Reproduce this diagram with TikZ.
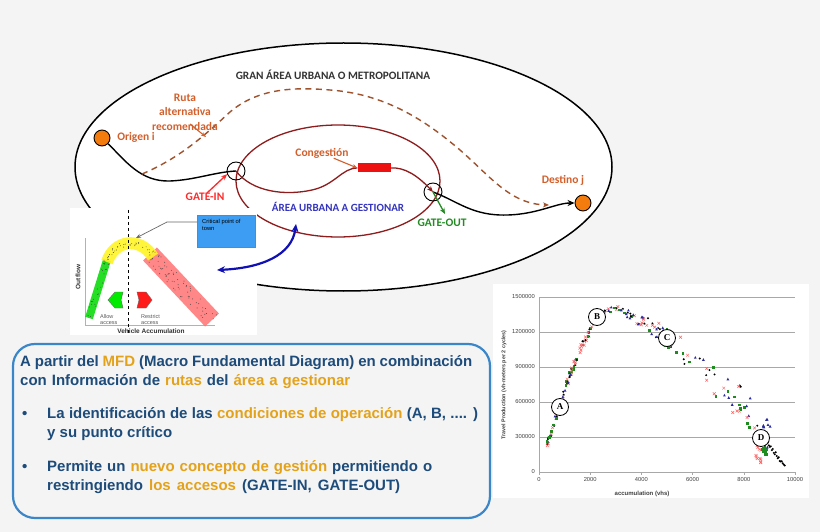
\documentclass[tikz,border=0pt]{standalone}
\usepackage{fontspec}
\setmainfont{Carlito}
\newfontfamily\arialf{Liberation Sans}
\newfontfamily\serff{Liberation Serif}
\usetikzlibrary{arrows.meta,shapes.geometric}

\definecolor{bgc}{HTML}{F4F4F4}
\definecolor{odC}{HTML}{F47C0E}
\definecolor{labelC}{HTML}{D35F2B}
\definecolor{dashC}{HTML}{A0522D}
\definecolor{maroonC}{HTML}{8E1C1C}
\definecolor{congRed}{HTML}{EE1111}
\definecolor{gateRed}{HTML}{FF2A2A}
\definecolor{gateGreen}{HTML}{228B22}
\definecolor{areaBlue}{HTML}{3535C0}
\definecolor{arrowBlue}{HTML}{1010B5}
\definecolor{boxBlue}{HTML}{3A86C8}
\definecolor{txtBlue}{HTML}{1D4B7A}
\definecolor{goldC}{HTML}{E3A21A}
\definecolor{mkblue}{HTML}{2B2BA0}
\definecolor{mkgreen}{HTML}{1E8C1E}
\definecolor{mkred}{HTML}{FF6060}
\definecolor{critC}{HTML}{3D9DF2}
\definecolor{gridC}{HTML}{A8A8A8}

\tikzset{
  lbl/.style={font=\bfseries\fontsize{11.5}{14.5}\selectfont, text=labelC, inner sep=1pt},
  odc/.style={circle, draw=black, line width=0.9pt, fill=odC, minimum size=16pt, inner sep=0},
  gatec/.style={circle, draw=black, line width=0.9pt, minimum size=18pt, inner sep=0},
  blkpath/.style={draw=black, line width=1.4pt},
  maroonpath/.style={draw=maroonC, line width=1.3pt},
  dashpath/.style={draw=dashC, line width=1.4pt, dash pattern=on 6pt off 4.5pt},
  boxline/.style={font=\arialf\bfseries\fontsize{15}{18}\selectfont, text=txtBlue, anchor=base west, inner sep=0},
  ticklbl/.style={font=\arialf\fontsize{5.8}{7}\selectfont, text=black!75, inner sep=1pt},
  lettc/.style={circle, draw=black, line width=0.8pt, fill=white, minimum size=17pt, inner sep=0, font=\serff\bfseries\fontsize{9}{10}\selectfont},
  insettxt/.style={font=\arialf\fontsize{5.5}{6}\selectfont, text=black!65, align=left, inner sep=0},
}

\newcommand\gw[1]{\textcolor{goldC}{#1}}
\newcommand\fitline[2]{\makebox[#1][s]{#2}}

\newcommand\mkpt[3]{%
  \ifcase#1\relax
    \fill[mkblue] (#2,#3) ++(0,-1.6) -- ++(1.4,2.6) -- ++(-2.8,0) -- cycle;
  \or
    \fill[mkgreen] (#2-1.4,#3-1.4) rectangle (#2+1.4,#3+1.4);
  \or
    \draw[mkred,line width=0.45pt] (#2-1.4,#3-1.4) -- (#2+1.4,#3+1.4) (#2-1.4,#3+1.4) -- (#2+1.4,#3-1.4);
  \else
    \fill[black] (#2,#3) circle[radius=1.1pt];
  \fi}

\begin{document}
\begin{tikzpicture}[x=1pt,y=-1pt]
\fill[bgc] (0,0) rectangle (820,532);
\useasboundingbox (0,0) rectangle (820,532);

% ---------- metropolitan area ----------
\node[ellipse, draw=black, line width=1.5pt, fill=white, minimum width=537pt, minimum height=248pt, inner sep=0] (metro) at (343.5,167) {};
\node[font=\bfseries\fontsize{11.3}{13}\selectfont, text=black!80] (ttl) at (333,75) {GRAN ÁREA URBANA O METROPOLITANA};

% managed area
\node[ellipse, draw=maroonC, line width=1.3pt, minimum width=204pt, minimum height=112pt, inner sep=0] (zone) at (338,181) {};

\node[odc] (orig) at (102,138) {};
\node[odc] (dest) at (583,203) {};
\node[gatec] (gin) at (236,171) {};
\node[gatec] (gout) at (433,192) {};
\node[fill=congRed, minimum width=33pt, minimum height=9pt, inner sep=0] (cong) at (374,168) {};

\coordinate (dstart) at (142,174);
\coordinate (dend) at (549,205);

% routes
\draw[blkpath] (orig) .. controls (125,160) and (140,182) .. (170,181) .. controls (195,180) and (215,172) .. (gin.center);
\draw[maroonpath] (gin.center) .. controls (252,192) and (285,196) .. (312,190) .. controls (335,185) and (342,168) .. (cong.west);
\draw[maroonpath, -{Stealth[length=6pt,width=5pt]}] (cong.east) .. controls (405,167) and (418,176) .. (gout.center);
\draw[blkpath, -{Stealth[length=7pt,width=6pt]}] (gout.center) .. controls (455,200) and (470,214) .. (500,215) .. controls (535,216) and (555,203) .. (dest);
\draw[dashpath, -{Stealth[length=6pt,width=5pt]}] (dstart) .. controls (180,158) and (205,135) .. (230,112) .. controls (258,88) and (295,87) .. (330,90) .. controls (385,94) and (425,120) .. (460,150) .. controls (490,176) and (510,204) .. (dend);

% labels
\node[lbl] (orl) at (136,137) {Origen i};
\node[lbl, align=center] (ruta) at (185,112) {Ruta\\alternativa\\recomendada};
\coordinate (rutaend) at (206,137);
\draw[draw=labelC, line width=1.1pt, -{Stealth[length=5pt,width=4pt]}] ([xshift=5pt,yshift=-12pt]ruta.center) -- (rutaend);
\node[lbl] (congl) at (322,153) {Congestión};
\draw[draw=labelC, line width=1.1pt, -{Stealth[length=5pt,width=4pt]}] ([xshift=-16pt,yshift=1pt]congl.south east) -- (cong.west);
\node[lbl] (destl) at (563,180) {Destino j};
\node[lbl, text=gateRed] (gil) at (205,197) {GATE-IN};
\draw[draw=gateRed, line width=1.3pt, -{Stealth[length=6pt,width=5pt]}] ([xshift=2pt,yshift=-1pt]gil.north) -- (gin.200);
\node[lbl, text=gateGreen] (gol) at (442,223) {GATE-OUT};
\coordinate (gotip) at (445,214);
\draw[draw=gateGreen, line width=1.3pt, -{Stealth[length=6pt,width=5pt]}] (gout.center) -- (gotip);
\node[font=\bfseries\fontsize{11}{13}\selectfont, text=areaBlue] (areal) at (338,207) {ÁREA URBANA A GESTIONAR};

% ---------- MFD inset ----------
\node[fill=white, minimum width=187pt, minimum height=127pt, inner sep=0, anchor=north west] (inset) at (70,208) {};
\draw[gray!60, line width=0.6pt] (85,238) -- (85,325) -- (215,325);
\draw[fill=none, draw=red!55, line width=19pt, opacity=0.85] (150,254) -- (212,320);
\draw[draw=green!75!black!60!green, line width=8pt, opacity=0.85] (89,318) -- (107,260);
\draw[draw=yellow!85!white, line width=12pt, opacity=0.9] (107,262) .. controls (114,240) and (140,236) .. (153,257);
\draw[black, dashed, line width=0.6pt] (128,210) -- (128,335);
\pgfmathsetseed{4242}
\foreach \k in {1,...,70}{
  \pgfmathsetmacro\tt{rnd}
  \pgfmathsetmacro\nn{rand*7}
  \fill[black!75] (150+62*\tt+0.73*\nn, 254+66*\tt-0.68*\nn) circle[radius=0.45pt];
}
\foreach \k in {1,...,25}{
  \pgfmathsetmacro\tt{rnd}
  \pgfmathsetmacro\nn{rand*3}
  \fill[black!75] (89+18*\tt+\nn, 318-58*\tt) circle[radius=0.45pt];
}
\foreach \k in {1,...,35}{
  \pgfmathsetmacro\tt{rnd}
  \pgfmathsetmacro\nn{rand*3}
  \fill[black!75] ({(1-\tt)^3*107+3*(1-\tt)^2*\tt*114+3*(1-\tt)*\tt^2*140+\tt^3*153}, {(1-\tt)^3*262+3*(1-\tt)^2*\tt*240+3*(1-\tt)*\tt^2*236+\tt^3*257+\nn}) circle[radius=0.45pt];
}
\filldraw[fill=green!90!black!80!green, draw=black!60, line width=0.4pt] (108,300) -- (115,292) -- (123,292) -- (121,300) -- (123,308) -- (115,308) -- cycle;
\filldraw[fill=red!90, draw=black!60, line width=0.4pt] (137,292) -- (146,292) -- (152,300) -- (146,308) -- (137,308) -- (139,300) -- cycle;
\node[insettxt, anchor=north west] (allow) at (100,314) {Allow\\access};
\node[insettxt, anchor=north west] (restr) at (141,314) {Restrict\\access};
\node[font=\arialf\bfseries\fontsize{6.5}{7}\selectfont, text=black!80, inner sep=0] (vacc) at (151,331) {Vehicle Accumulation};
\node[font=\arialf\bfseries\fontsize{6.5}{7}\selectfont, text=black!80, rotate=90, inner sep=0] (outf) at (78,277) {Outflow};
\node[fill=critC, draw=black!50, line width=0.4pt, minimum width=58pt, minimum height=32pt, inner sep=0, anchor=north west] (crit) at (197,215) {};
\node[font=\arialf\fontsize{5.8}{7}\selectfont, anchor=north west, align=left, inner sep=0] (critt) at (202,219) {Critical point of\\town};
\coordinate (critbend) at (167,222);
\coordinate (critpt) at (136,238);
\draw[black!60, line width=0.7pt, -{Stealth[length=5pt,width=4pt]}] ([yshift=-7pt]crit.north west) -- (critbend) -- (critpt);

% blue double arrow
\coordinate (bl) at (217,270);
\coordinate (br) at (296,224);
\draw[arrowBlue, line width=2.2pt, {Stealth[length=8pt,width=7pt]}-{Stealth[length=8pt,width=7pt]}] (bl) .. controls (262,268) and (292,255) .. (br);

% ---------- text box ----------
\node[draw=boxBlue, line width=2.2pt, rounded corners=22pt, minimum width=477pt, minimum height=174pt, inner sep=0] (tbox) at (251.5,431) {};
\node[boxline] (l1) at (20,366) {\fitline{452pt}{A partir del \gw{MFD} (Macro Fundamental Diagram) en combinación}};
\node[boxline] (l2) at (20,385) {\fitline{330pt}{con Información de \gw{rutas} del \gw{área a gestionar}}};
\node[boxline] (b1) at (22,418) {•};
\node[boxline] (l3) at (47,418) {\fitline{431pt}{La identificación de las \gw{condiciones de operación} (A, B, .... )}};
\node[boxline] (l4) at (47,437) {y su punto crítico};
\node[boxline] (b2) at (22,471) {•};
\node[boxline] (l5) at (47,471) {\fitline{385pt}{Permite un \gw{nuevo concepto de gestión} permitiendo o}};
\node[boxline] (l6) at (47,490) {\fitline{353pt}{restringiendo \gw{los accesos} (GATE-IN, GATE-OUT)}};

% ---------- chart ----------
\node[fill=white, minimum width=316pt, minimum height=214pt, inner sep=0, anchor=north west] (chart) at (493,284) {};
\foreach \v/\yy in {0/472,300000/437,600000/402,900000/367,1200000/332,1500000/297}{
  \draw[gridC, line width=0.8pt] (539,\yy) -- (795,\yy);
  \node[ticklbl, anchor=east] at (536,\yy) {\v};
}
\draw[gridC, line width=0.8pt] (539,297) -- (539,472);
\foreach \v/\xx in {0/539,2000/590.2,4000/641.4,6000/692.6,8000/743.8,10000/795}{
  \draw[gridC, line width=0.6pt] (\xx,472) -- (\xx,475);
  \node[ticklbl, anchor=north] at (\xx,476) {\v};
}
\node[font=\arialf\bfseries\fontsize{6}{7}\selectfont, text=black!75] (xl) at (642,494) {accumulation (vhs)};
\node[font=\arialf\bfseries\fontsize{5.4}{6}\selectfont, text=black!75, rotate=90] (yl) at (504,385) {Travel Production (vh-meters per 2 cycles)};

\pgfmathsetseed{777}
% rising branch
\foreach \k in {1,...,90}{
  \pgfmathsetmacro\n{0.3+1.8*rnd}
  \pgfmathsetmacro\P{14*sin(30*\n)+0.35*rand}
  \pgfmathtruncatemacro\c{random(0,3)}
  \pgfmathsetmacro\X{539+25.6*\n}
  \pgfmathsetmacro\Y{472-11.667*\P}
  \mkpt{\c}{\X}{\Y}
}
% top and descending branch
\foreach \k in {1,...,110}{
  \pgfmathsetmacro\n{2.5+6.1*rnd}
  \pgfmathsetmacro\t{max(\n-3,0.01)/5.5}
  \pgfmathsetmacro\P{(\n<3)*(14*sin(30*\n)) + (1-(\n<3))*(14-9.5*\t^1.3) + (0.25+1.8*\t)*rand}
  \pgfmathtruncatemacro\c{random(0,3)}
  \pgfmathsetmacro\X{539+25.6*\n}
  \pgfmathsetmacro\Y{472-11.667*\P}
  \mkpt{\c}{\X}{\Y}
}
% jam cluster
\foreach \k in {1,...,14}{
  \pgfmathsetmacro\X{539+25.6*(8.45+0.25*rnd)}
  \pgfmathsetmacro\Y{472-11.667*(0.8+1.8*rnd)}
  \mkpt{2}{\X}{\Y}
}
\foreach \k in {1,...,14}{
  \pgfmathsetmacro\X{539+25.6*(8.7+0.2*rnd)}
  \pgfmathsetmacro\Y{472-11.667*(1.3+1.2*rnd)}
  \mkpt{1}{\X}{\Y}
}
\foreach \k in {1,...,14}{
  \pgfmathsetmacro\X{539+25.6*(8.75+0.3*rnd)}
  \pgfmathsetmacro\Y{472-11.667*(2+2.5*rnd)}
  \mkpt{0}{\X}{\Y}
}
\foreach \k in {0,...,18}{
  \pgfmathsetmacro\X{539+25.6*(8.9+0.7*\k/18)}
  \pgfmathsetmacro\Y{472-11.667*(2.6-2.1*\k/18+0.15*rand)}
  \mkpt{3}{\X}{\Y}
}
\node[lettc] (pa) at (560,407) {A};
\node[lettc] (pb) at (597,317) {B};
\node[lettc] (pc) at (667,338) {C};
\node[lettc] (pd) at (761,438) {D};
\end{tikzpicture}
\end{document}
